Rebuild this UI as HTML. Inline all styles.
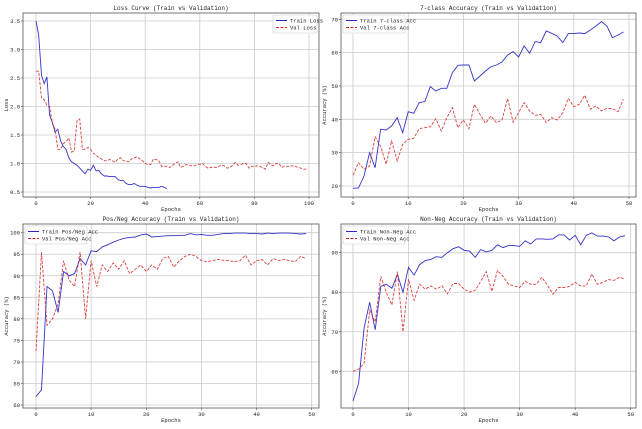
<!DOCTYPE html>
<html><head><meta charset="utf-8"><style>
html,body{margin:0;padding:0;background:#fff;width:642px;height:429px;overflow:hidden}
svg{display:block}
text{font-family:"Liberation Mono","DejaVu Sans Mono",monospace;fill:#222}
</style></head><body>
<svg id="s" width="642" height="429" viewBox="0 0 642 429" xmlns="http://www.w3.org/2000/svg"></svg>
<script>
const S=document.getElementById('s');let h='';
function panel(o){
 const {bx0,bx1,by0,by1,x0p,x1p,x0,x1,y0p,y1p,y0,y1,xt,yt,title,labs,ser,ylab,legX}=o;
 const X=v=>x0p+(v-x0)*(x1p-x0p)/(x1-x0), Y=v=>y0p+(v-y0)*(y1p-y0p)/(y1-y0);
 for(const t of xt){const x=X(t);h+=`<line x1="${x}" y1="${by0}" x2="${x}" y2="${by1}" stroke="#ccc" stroke-width="0.8"/><line x1="${x}" y1="${by1}" x2="${x}" y2="${by1+2}" stroke="#444" stroke-width="0.6"/><text x="${x}" y="${by1+8}" font-size="5.5" text-anchor="middle">${t}</text>`;}
 for(const t of yt){const y=Y(t);h+=`<line x1="${bx0}" y1="${y}" x2="${bx1}" y2="${y}" stroke="#ccc" stroke-width="0.8"/><line x1="${bx0-2}" y1="${y}" x2="${bx0}" y2="${y}" stroke="#444" stroke-width="0.6"/><text x="${bx0-3}" y="${y+2}" font-size="5.5" text-anchor="end">${o.fmt?o.fmt(t):t}</text>`;}
 ser.forEach((d,k)=>{const p=d.map((v,i)=>X(i).toFixed(1)+','+Y(v).toFixed(1)).join(' ');
  h+=`<polyline points="${p}" fill="none" stroke="${k?'#d62020':'#1010c0'}" stroke-opacity="${k?0.85:0.85}" stroke-width="0.9" ${k?'stroke-dasharray="3,1.5"':''}/>`;});
 h+=`<rect x="${bx0}" y="${by0}" width="${bx1-bx0}" height="${by1-by0}" fill="none" stroke="#555" stroke-width="0.8"/>`;
 h+=`<text x="${(bx0+bx1)/2}" y="${by0-3}" font-size="6" text-anchor="middle">${title}</text>`;
 h+=`<text x="${(bx0+bx1)/2}" y="${by1+14}" font-size="5.5" text-anchor="middle">Epochs</text>`;
 const yc=(by0+by1)/2;h+=`<text x="${bx0-15}" y="${yc}" font-size="5.5" text-anchor="middle" transform="rotate(-90 ${bx0-15} ${yc})">${ylab}</text>`;
 const lx=legX, ly=by0+2, lw=o.legW;
 h+=`<rect x="${lx}" y="${ly}" width="${lw}" height="18" fill="#fff" stroke="#ccc" stroke-width="0.6" rx="1.5"/>`;
 h+=`<line x1="${lx+3}" y1="${ly+5.5}" x2="${lx+14}" y2="${ly+5.5}" stroke="#1010c0" stroke-width="0.9"/><text x="${lx+17}" y="${ly+7.5}" font-size="5.5">${labs[0]}</text>`;
 h+=`<line x1="${lx+3}" y1="${ly+12.5}" x2="${lx+14}" y2="${ly+12.5}" stroke="#d62020" stroke-width="0.9" stroke-dasharray="3,1.5"/><text x="${lx+17}" y="${ly+14.5}" font-size="5.5">${labs[1]}</text>`;
}
const tl=[3.5,3.25,2.55,2.4,2.52,1.85,1.72,1.55,1.6,1.4,1.3,1.25,1.1,1.03,1.0,0.97,0.92,0.87,0.82,0.9,0.88,0.97,0.87,0.88,0.82,0.78,0.78,0.77,0.77,0.77,0.72,0.7,0.7,0.65,0.63,0.63,0.65,0.62,0.6,0.6,0.6,0.58,0.57,0.58,0.58,0.58,0.6,0.58,0.56];
const vl=[2.62,2.62,2.15,2.12,2.02,2.0,1.7,1.6,1.25,1.25,1.35,1.38,1.45,1.2,1.22,1.75,1.78,1.25,1.25,1.28,1.25,1.18,1.15,1.1,1.08,1.05,1.05,1.07,1.05,1.02,1.08,1.1,1.05,1.04,1.03,1.08,1.1,1.12,1.08,1.05,1.0,0.98,0.98,1.08,1.07,1.05,0.95,0.95,0.95,0.93,0.97,1.0,1.03,0.93,0.95,0.98,0.97,0.96,0.96,0.98,0.98,1.0,0.95,0.92,0.93,0.94,0.93,0.95,0.97,0.96,0.92,0.93,0.97,1.02,0.97,0.98,1.0,1.0,0.92,0.95,0.95,0.96,0.95,0.93,0.9,1.02,0.98,0.96,1.0,1.0,0.93,0.95,0.95,0.95,0.96,0.95,0.93,0.92,0.9,0.9];
panel({bx0:23,bx1:319,by0:13,by1:197,x0p:36,x1p:309,x0:0,x1:100,y0p:21,y1p:192,y0:3.5,y1:0.5,xt:[0,20,40,60,80,100],yt:[0.5,1,1.5,2,2.5,3,3.5],fmt:t=>t.toFixed(1),title:'Loss Curve (Train vs Validation)',labs:['Train Loss','Val Loss'],ser:[tl,vl.slice(0,100)],ylab:'Loss',legX:273,legW:44});
const t7=[19.3,19.4,23,30,25.5,37,36.8,38,40.5,36,42.3,41.8,45,45.3,49.8,48.5,49.3,49.3,54,56.2,56.3,56.3,51.5,53,54.5,55.8,56.3,57.2,59.3,60.3,58.7,62,59.8,63.3,63,66.5,65.8,65,63,65.7,65.7,65.9,65.7,66.8,68,69.3,68,64.5,65.3,66.2];
const v7=[23.2,27,25,26,34.8,32,26.5,33.5,27.5,32.5,34,34.3,37.2,37.5,37.8,40.2,36.5,40.5,43.5,37.5,39.8,37.2,44.5,41.5,38.8,41,39,39.8,46.2,39.2,42,45,42.5,41.2,41.5,39,40.5,39.8,42,46.3,43.8,44.5,47.2,43,44,42.5,43.3,43.2,42.3,46];
panel({bx0:341,bx1:636,by0:13,by1:197,x0p:353,x1p:629,x0:0,x1:50,y0p:19.3,y1p:186,y0:70,y1:20,xt:[0,10,20,30,40,50],yt:[20,30,40,50,60,70],title:'7-class Accuracy (Train vs Validation)',labs:['Train 7-class Acc','Val 7-class Acc'],ser:[t7,v7],ylab:'Accuracy (%)',legX:343,legW:62});
const tp=[62,63.5,87.5,86.5,81.5,91,90,90.5,94,92.5,95.8,95.6,96.7,97.2,97.8,98.3,98.7,98.9,99,99.5,99.7,99,99.1,99.2,99.3,99.3,99.4,99.4,99.8,99.5,99.6,99.4,99.4,99.6,99.8,99.8,99.9,99.9,99.9,99.8,99.8,99.7,99.9,99.8,99.9,99.9,99.9,99.8,99.7,99.8];
const vp=[72.5,95.5,78.5,80,83.5,93.5,89,87.5,95.5,80,93.5,87.5,92.5,91,93,91.5,93.5,90.5,91.5,92.5,91,92.5,91.5,94,94.5,92,93.5,94.5,95,94.5,93.5,93.3,93.5,93.8,93.6,93.5,93.3,93.5,94.8,92.5,93.5,93.8,92.5,94,93.5,93.8,93.5,93.3,94.5,94];
panel({bx0:23,bx1:319,by0:224,by1:408,x0p:36,x1p:311.7,x0:0,x1:50,y0p:232.7,y1p:405,y0:100,y1:60,xt:[0,10,20,30,40,50],yt:[60,65,70,75,80,85,90,95,100],title:'Pos/Neg Accuracy (Train vs Validation)',labs:['Train Pos/Neg Acc','Val Pos/Neg Acc'],ser:[tp,vp],ylab:'Accuracy (%)',legX:25,legW:62});
const tn=[52.5,57,71,77.5,70.5,81.5,82,81,84.5,80,86.3,84.3,87,88,88.3,89,88.8,90,91,91.5,90.6,90.4,88.8,90.8,90.2,90.6,92,91.3,91.8,91.8,91.6,93,92.2,93.5,93.5,93.4,93.5,94.5,94.5,93.2,94.4,92,94.4,95,94.2,94.2,94,93,94,94.3];
const vn=[60,60.5,62,75.5,72.5,84,80,76.8,85.2,70,83.3,78,82,80.8,81.6,80.8,81.6,79.6,82.2,82.2,80.8,80,80.5,82.8,85.2,80.2,85.5,84,82,81.6,81.2,82.8,82,82,83.8,81.8,79.5,81.2,81.2,81.5,82.5,81.6,81.6,84.6,82,82.5,83.2,83,83.8,83.3,84.3];
panel({bx0:341,bx1:636,by0:224,by1:408,x0p:353,x1p:630.7,x0:0,x1:50,y0p:252.7,y1p:371.3,y0:90,y1:60,xt:[0,10,20,30,40,50],yt:[60,70,80,90],title:'Non-Neg Accuracy (Train vs Validation)',labs:['Train Non-Neg Acc','Val Non-Neg Acc'],ser:[tn,vn.slice(0,50)],ylab:'Accuracy (%)',legX:343,legW:62});
S.innerHTML=h;
</script>
</body></html>
